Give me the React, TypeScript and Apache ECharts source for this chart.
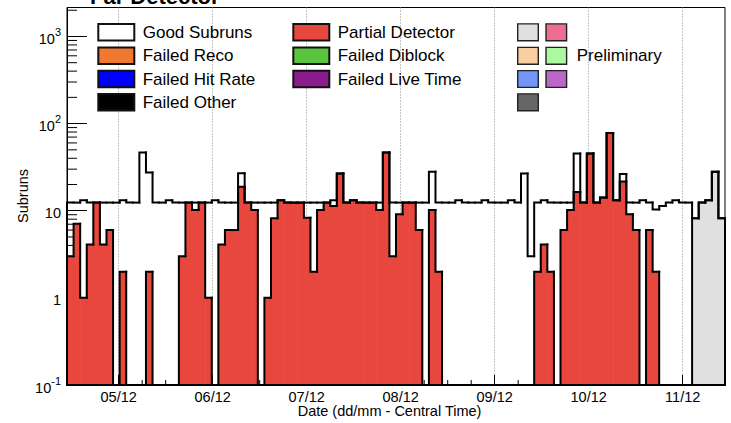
import React, { useEffect, useRef } from 'react';
import * as echarts from 'echarts';

// ---------------- data ----------------
const BIN_COUNT = 100;
const DAY_TICK_LABELS = ['05/12', '06/12', '07/12', '08/12', '09/12', '10/12', '11/12'];
const FIRST_MIDNIGHT_BIN = 7.857;
const BINS_PER_DAY = 100 / 7;

const partialDetector = [
  3.0, 7.1, 1.0, 4.1, 12.4, 4.1, 6.0, 0, 2.0, 0,
  0, 0, 2.0, 0, 0, 0, 0, 3.0, 12.4, 10.2,
  12.4, 1.0, 0, 4.1, 6.0, 6.0, 18.8, 12.4, 10.2, 0,
  1.0, 8.2, 13.2, 12.4, 12.4, 12.4, 8.3, 2.0, 10.2, 12.4,
  11.3, 26.7, 12.4, 13.2, 12.4, 12.4, 12.4, 10.2, 46.5, 3.0,
  9.1, 12.4, 12.4, 6.0, 0, 10.2, 2.0, 0, 0, 0,
  0, 0, 0, 0, 0, 0, 0, 0, 0, 0,
  0, 2.0, 4.1, 2.0, 0, 6.0, 10.2, 16.4, 12.4, 45.3,
  12.4, 14.2, 78, 13.2, 21.6, 9.1, 6.0, 0, 6.0, 2.0,
  0, 0, 0, 0, 0, 0, 0, 0, 0, 0,
];

const goodSubruns = [
  9.4, 5.3, 12.2, 8.3, 0, 8.3, 6.4, 12.4, 11.2, 12.4,
  12.4, 46.5, 25.5, 12.4, 12.4, 13.2, 12.4, 9.4, 0, 2.2,
  0, 11.4, 13.2, 8.3, 6.4, 6.4, 8.2, 0, 2.2, 12.4,
  11.4, 4.2, 0, 0, 0, 0, 4.1, 10.4, 2.2, 0,
  1.9, 0, 0, 0, 0, 0, 0, 2.2, 0, 9.4,
  3.3, 0, 0, 6.4, 12.4, 17.8, 10.4, 12.4, 12.4, 13.2,
  12.4, 12.4, 12.4, 13.2, 12.4, 12.4, 12.4, 13.2, 12.4, 26.7,
  3.0, 10.4, 9.1, 10.4, 12.4, 6.4, 2.2, 28.9, 0, 0,
  0, 0, 0, 0, 4.8, 3.3, 6.4, 13.2, 6.4, 8.3,
  11.3, 12.4, 13.2, 12.4, 12.4, 0, 0, 0, 0, 0,
];

const preliminaryGood = [
  0, 0, 0, 0, 0, 0, 0, 0, 0, 0,
  0, 0, 0, 0, 0, 0, 0, 0, 0, 0,
  0, 0, 0, 0, 0, 0, 0, 0, 0, 0,
  0, 0, 0, 0, 0, 0, 0, 0, 0, 0,
  0, 0, 0, 0, 0, 0, 0, 0, 0, 0,
  0, 0, 0, 0, 0, 0, 0, 0, 0, 0,
  0, 0, 0, 0, 0, 0, 0, 0, 0, 0,
  0, 0, 0, 0, 0, 0, 0, 0, 0, 0,
  0, 0, 0, 0, 0, 0, 0, 0, 0, 0,
  0, 0, 0, 0, 0, 8.2, 12.4, 13.2, 28, 8.2,
];

const LEGEND_COL1 = ['Good Subruns', 'Failed Reco', 'Failed Hit Rate', 'Failed Other'];
const LEGEND_COL1_COLORS = ['#FFFFFF', '#F07830', '#0000FF', '#000000'];
const LEGEND_COL2 = ['Partial Detector', 'Failed Diblock', 'Failed Live Time'];
const LEGEND_COL2_COLORS = ['#E8473E', '#5BC43E', '#8A1B8C'];
const PRELIM_COLORS = [['#E0E0E0', '#EE6D93'], ['#F8CFA0', '#ABF8A0'], ['#6F96F8', '#BB66C8'], ['#666666']];
const PRELIM_LABEL = 'Preliminary';
const TITLE = 'Far Detector';
const X_TITLE = 'Date (dd/mm - Central Time)';
const Y_TITLE = 'Subruns';

// ---------------- layout / style ----------------
const FONT = '"Liberation Sans", Arial, Helvetica, sans-serif';
const YMIN = 0.1;
const YMAX = 2150;
const RED = '#E8473E';
const PRELIM_FILL = '#E0E0E0';
const ROW_Y = [32.3, 55.8, 79, 102.3];

const totals = partialDetector.map((v, i) => v + goodSubruns[i] + preliminaryGood[i]);

const dayTicks = DAY_TICK_LABELS.map((_, i) => FIRST_MIDNIGHT_BIN + i * BINS_PER_DAY);

const xMinorTicks: number[] = [];
for (let j = -4; j < 40; j++) {
  if (j % 4 === 0) continue;
  const x = FIRST_MIDNIGHT_BIN + (j * BINS_PER_DAY) / 4;
  if (x > 0 && x < BIN_COUNT) xMinorTicks.push(x);
}
const yMinorTicks: number[] = [];
for (let e = -1; e <= 3; e++) {
  for (let m = 2; m <= 9; m++) {
    const v = m * Math.pow(10, e);
    if (v < YMAX) yMinorTicks.push(v);
  }
}

function fillSeries(name: string, values: number[], color: string, z: number) {
  return {
    type: 'custom',
    name,
    z,
    silent: true,
    data: values.map((v, k) => [k, v]),
    renderItem: (params: any, api: any) => {
      const k = api.value(0);
      const v = api.value(1);
      if (!(v > YMIN)) return { type: 'group', children: [] };
      const yB = api.coord([k, YMIN])[1];
      const p0 = api.coord([k, v]);
      const x1 = api.coord([k + 1, v])[0];
      return {
        type: 'rect',
        shape: { x: p0[0], y: p0[1], width: x1 - p0[0] + 0.6, height: yB - p0[1] },
        style: { fill: color },
      };
    },
  };
}

function outlineSeries(name: string, values: number[], z: number) {
  return {
    type: 'custom',
    name,
    z,
    silent: true,
    data: values.map((v, k) => [k, v, k > 0 ? values[k - 1] : 0]),
    renderItem: (params: any, api: any) => {
      const k = api.value(0);
      const v = api.value(1);
      const prev = api.value(2);
      const yB = api.coord([k, YMIN])[1];
      const yv = v > YMIN ? api.coord([k, v])[1] : yB;
      const yp = prev > YMIN ? api.coord([k, prev])[1] : yB;
      const x0 = api.coord([k, 1])[0];
      const x1 = api.coord([k + 1, 1])[0];
      const pts: number[][] = [[x0, yp], [x0, yv], [x1, yv]];
      if (k === values.length - 1) pts.push([x1, yB]);
      return {
        type: 'polyline',
        shape: { points: pts },
        style: { stroke: '#000', lineWidth: 2, fill: null, lineJoin: 'miter', lineCap: 'square' },
      };
    },
  };
}

function buildGraphic() {
  const g: any[] = [];
  g.push({
    type: 'text', x: 90, y: -3.6, z: 100,
    style: { text: TITLE, fontSize: 22, fontWeight: 'bold', fontFamily: FONT, fill: '#000', verticalAlign: 'middle', align: 'left' },
  });
  g.push({
    type: 'text', x: 297.7, y: 411, z: 100,
    style: { text: X_TITLE, fontSize: 14.5, fontFamily: FONT, fill: '#000', verticalAlign: 'middle', align: 'left' },
  });
  g.push({
    type: 'text', x: 23, y: 196, rotation: Math.PI / 2, z: 100,
    style: { text: Y_TITLE, fontSize: 14.5, fontFamily: FONT, fill: '#000', verticalAlign: 'middle', align: 'center' },
  });
  LEGEND_COL1.forEach((name, i) => {
    g.push({
      type: 'rect', z: 100,
      shape: { x: 98.3, y: ROW_Y[i] - 8.2, width: 36, height: 16.4 },
      style: { fill: LEGEND_COL1_COLORS[i], stroke: '#111', lineWidth: 2 },
    });
    g.push({
      type: 'text', x: 142.7, y: ROW_Y[i], z: 100,
      style: { text: name, fontSize: 17, fontFamily: FONT, fill: '#000', verticalAlign: 'middle', align: 'left' },
    });
  });
  LEGEND_COL2.forEach((name, i) => {
    g.push({
      type: 'rect', z: 100,
      shape: { x: 293.3, y: ROW_Y[i] - 8.2, width: 36, height: 16.4 },
      style: { fill: LEGEND_COL2_COLORS[i], stroke: '#111', lineWidth: 2 },
    });
    g.push({
      type: 'text', x: 337.7, y: ROW_Y[i], z: 100,
      style: { text: name, fontSize: 17, fontFamily: FONT, fill: '#000', verticalAlign: 'middle', align: 'left' },
    });
  });
  PRELIM_COLORS.forEach((row, i) => {
    row.forEach((c, j) => {
      g.push({
        type: 'rect', z: 100,
        shape: { x: 517.7 + j * 28.3, y: ROW_Y[i] - 8.4, width: 20.6, height: 16.8 },
        style: { fill: c, stroke: '#222', lineWidth: 1.4 },
      });
    });
  });
  g.push({
    type: 'text', x: 576.7, y: ROW_Y[1], z: 100,
    style: { text: PRELIM_LABEL, fontSize: 17, fontFamily: FONT, fill: '#000', verticalAlign: 'middle', align: 'left' },
  });
  return g;
}

function buildOption() {
  return {
    animation: false,
    textStyle: { fontFamily: FONT },
    grid: {
      left: 67, right: 6, top: 7.5, bottom: 38,
      show: true, borderColor: '#000', borderWidth: 1, backgroundColor: 'transparent',
      outerBoundsMode: 'none', containLabel: false,
    },
    xAxis: {
      type: 'value', min: 0, max: BIN_COUNT,
      axisLine: { show: true, onZero: false, lineStyle: { color: '#000', width: 1 } },
      axisTick: { show: true, inside: true, length: 10, customValues: dayTicks, lineStyle: { color: '#000', width: 1 } },
      axisLabel: {
        show: true, customValues: dayTicks, margin: 4, color: '#000', fontSize: 14.5, fontFamily: FONT,
        formatter: (val: number) => DAY_TICK_LABELS[Math.round((val - FIRST_MIDNIGHT_BIN) / BINS_PER_DAY)] ?? '',
      },
      splitLine: { show: true, lineStyle: { type: [1, 2], color: '#888', width: 1 } },
      minorTick: { show: false },
    },
    yAxis: {
      type: 'log', logBase: 10, min: YMIN, max: YMAX,
      axisLine: { show: true, lineStyle: { color: '#000', width: 1 } },
      axisTick: { show: true, inside: true, length: 20, lineStyle: { color: '#000', width: 1 } },
      axisLabel: {
        show: true, margin: 6, showMaxLabel: false, color: '#000',
        formatter: (val: number) => {
          const e = Math.round(Math.log10(val));
          if (e === 0) return '{b|1}';
          if (e === 1) return '{b|10}';
          return '{b|10}{s|' + e + '}';
        },
        rich: {
          b: { fontSize: 14.5, fontFamily: FONT, color: '#000', lineHeight: 20, verticalAlign: 'bottom' },
          s: { fontSize: 11, fontFamily: FONT, color: '#000', lineHeight: 11, verticalAlign: 'top' },
        },
      },
      splitLine: { show: false },
      minorTick: { show: false },
      minorSplitLine: { show: false },
    },
    series: [
      {
        type: 'custom', name: 'yMinorTicks', z: 1, silent: true,
        data: yMinorTicks.map((v) => [0, v]),
        renderItem: (params: any, api: any) => {
          const p = api.coord([0, api.value(1)]);
          return { type: 'line', shape: { x1: p[0], y1: p[1], x2: p[0] + 10, y2: p[1] }, style: { stroke: '#000', lineWidth: 1 } };
        },
      },
      {
        type: 'custom', name: 'xMinorTicks', z: 1, silent: true,
        data: xMinorTicks.map((x) => [x, YMIN]),
        renderItem: (params: any, api: any) => {
          const p = api.coord([api.value(0), YMIN]);
          return { type: 'line', shape: { x1: p[0], y1: p[1], x2: p[0], y2: p[1] - 5 }, style: { stroke: '#000', lineWidth: 1 } };
        },
      },
      fillSeries('Partial Detector', partialDetector, RED, 2),
      fillSeries('Preliminary', preliminaryGood, PRELIM_FILL, 2),
      outlineSeries('Total', totals, 3),
      outlineSeries('Partial Detector outline', partialDetector, 4),
      outlineSeries('Preliminary outline', preliminaryGood, 4),
    ],
    graphic: buildGraphic(),
  };
}

export default function App() {
  const ref = useRef<HTMLDivElement>(null);
  useEffect(() => {
    const chart = echarts.init(ref.current!, null, { renderer: 'svg' });
    chart.setOption(buildOption() as any);
    return () => chart.dispose();
  }, []);
  return (
    <div
      ref={ref}
      style={{ position: 'absolute', left: 0, top: 0, width: 731, height: 423, background: '#fff' }}
    />
  );
}
